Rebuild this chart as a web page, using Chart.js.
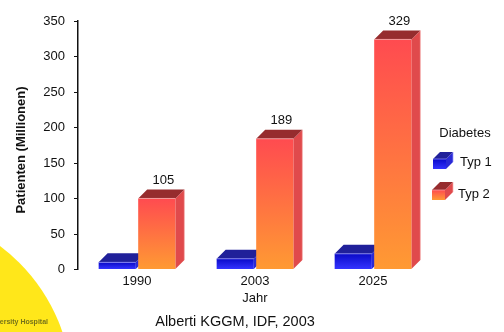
<!DOCTYPE html>
<html>
<head>
<meta charset="utf-8">
<style>html,body{margin:0;padding:0;background:#fff}canvas{display:block}</style>
<script src="https://cdn.jsdelivr.net/npm/chart.js@4"></script>
</head>
<body>
<canvas id="c" width="504" height="332"></canvas>
<script>
const years = ['1990', '2003', '2025'];
const typ1 = [15, 20, 27];
const typ2 = [105, 189, 329];
const seriesNames = ['Typ 1', 'Typ 2'];

const FONT = '"Liberation Sans", Arial, sans-serif';
const DEPTH = 9;        // shift of the rear face of each box
const FRONT_DROP = 3.5; // the value sits inside the depth of the box, not on its front edge

const blueFaces = { top: '#0a0ac8', bottom: '#3434ff', lid: '#20209a', side: '#2a2ad6', edge: '#9a9aff' };
const redFaces = { top: '#ff4b50', bottom: '#ff9a33', lid: '#962c2e', side: '#e04a4c', edge: '#f6b0b0' };

function poly(ctx, pts, fill) {
  ctx.fillStyle = fill;
  ctx.beginPath();
  pts.forEach((p, i) => i ? ctx.lineTo(p[0], p[1]) : ctx.moveTo(p[0], p[1]));
  ctx.closePath();
  ctx.fill();
}

function box(ctx, l, r, t, b, d, faces) {
  poly(ctx, [[r, t], [r + d, t - d], [r + d, b - d], [r, b]], faces.side);
  poly(ctx, [[l, t], [l + d, t - d], [r + d, t - d], [r, t]], faces.lid);
  const g = ctx.createLinearGradient(0, t, 0, b);
  g.addColorStop(0, faces.top);
  g.addColorStop(1, faces.bottom);
  ctx.fillStyle = g;
  ctx.fillRect(l, t, r - l, b - t);
  ctx.strokeStyle = faces.edge;
  ctx.lineWidth = 0.7;
  ctx.beginPath();
  ctx.moveTo(l, t);
  ctx.lineTo(r, t);
  ctx.moveTo(r + d, t - d);
  ctx.lineTo(r + d, b - d);
  ctx.stroke();
}

function label(ctx, text, x, y, font, align) {
  ctx.fillStyle = '#111';
  ctx.font = font;
  ctx.textAlign = align || 'center';
  ctx.textBaseline = 'middle';
  ctx.fillText(text, x, y);
}

// Yellow hospital emblem peeking in from the lower left corner
const emblem = {
  id: 'emblem',
  beforeDraw(chart) {
    const ctx = chart.ctx;
    ctx.save();
    ctx.fillStyle = '#ffe71a';
    ctx.beginPath();
    ctx.arc(-108, 390, 180, 0, Math.PI * 2);
    ctx.fill();
    ctx.fillStyle = '#77741a';
    ctx.font = 'bold 7px ' + FONT;
    ctx.textAlign = 'right';
    ctx.textBaseline = 'middle';
    ctx.fillText('University Hospital', 48, 322);
    ctx.restore();
  }
};

// Draws the bars as boxes with a lid and a side face, and their value labels
const boxes = {
  id: 'boxes',
  beforeDatasetsDraw(chart) {
    const ctx = chart.ctx;
    ctx.save();
    [[0, blueFaces], [1, redFaces]].forEach(([i, faces]) => {
      chart.getDatasetMeta(i).data.forEach(bar => {
        const w = bar.width / 2;
        box(ctx, bar.x - w, bar.x + w, bar.y + FRONT_DROP, bar.base, DEPTH, faces);
      });
    });
    chart.getDatasetMeta(1).data.forEach((bar, i) => {
      label(ctx, String(typ2[i]), bar.x + 6.5, bar.y + FRONT_DROP - DEPTH - 9, '13px ' + FONT);
    });
    ctx.restore();
  },
  beforeDatasetDraw() {
    return false;
  }
};

// Side key, rotated axis title and source line
const annotations = {
  id: 'annotations',
  afterDraw(chart) {
    const ctx = chart.ctx;
    ctx.save();
    label(ctx, 'Diabetes', 465, 133, '13px ' + FONT);
    box(ctx, 433, 446, 159, 169, 7, blueFaces);
    label(ctx, seriesNames[0], 460, 162, '13px ' + FONT, 'left');
    box(ctx, 432, 445, 190, 200, 8, redFaces);
    label(ctx, seriesNames[1], 458, 194, '13px ' + FONT, 'left');
    label(ctx, 'Alberti KGGM, IDF, 2003', 235, 322, '14.5px ' + FONT);
    ctx.translate(21, 150);
    ctx.rotate(-Math.PI / 2);
    label(ctx, 'Patienten (Millionen)', 0, 0, 'bold 13px ' + FONT);
    ctx.restore();
  }
};

new Chart(document.getElementById('c'), {
  type: 'bar',
  data: {
    labels: years,
    datasets: [
      { label: seriesNames[0], data: typ1, backgroundColor: '#2020e0' },
      { label: seriesNames[1], data: typ2, backgroundColor: '#ff6a45' }
    ]
  },
  plugins: [emblem, boxes, annotations],
  options: {
    responsive: false,
    animation: false,
    categoryPercentage: 0.67,
    barPercentage: 0.94,
    layout: { padding: { left: 0, top: 21, right: 72, bottom: 26 } },
    plugins: { legend: { display: false }, tooltip: { enabled: false } },
    scales: {
      x: {
        afterFit(s) { s.height = 36.5; },
        grid: { display: false, tickLength: 0 },
        border: { display: false },
        ticks: { color: '#111', font: { family: FONT, size: 13 }, padding: 4, maxRotation: 0 },
        title: { display: true, text: 'Jahr', color: '#111', font: { family: FONT, size: 13 }, padding: 0 }
      },
      y: {
        min: 0,
        max: 350,
        afterFit(s) { s.width = 78; },
        grid: { drawOnChartArea: false, color: '#111', tickLength: 4, lineWidth: 1 },
        border: { display: true, color: '#111', width: 1.5 },
        ticks: { stepSize: 50, color: '#111', font: { family: FONT, size: 13 }, padding: 9 }
      }
    }
  }
});
</script>
</body>
</html>
